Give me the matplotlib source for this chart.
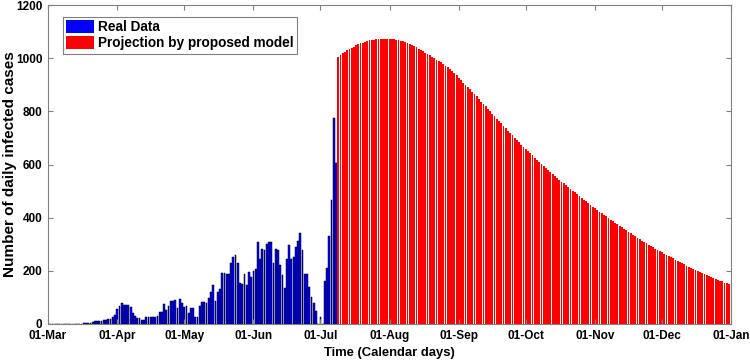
import matplotlib.pyplot as plt
import matplotlib.dates as mdates
import matplotlib.patches as mpatches
from datetime import date, timedelta

plt.rcParams['font.family'] = ['Liberation Sans', 'DejaVu Sans']
plt.rcParams['font.weight'] = 'bold'

# Reported daily cases (one value per day from 01-Mar)
real_start = date(2020, 3, 1)
real_cases = [0, 0, 0, 0, 0, 0, 0, 0, 0, 0, 0, 0, 0, 0,
              1, 1, 2, 2, 4, 5,
              8, 10, 10, 12, 12, 14, 14, 18, 18, 25,
              33, 57, 69, 78, 73, 72, 72, 63, 40, 31,
              23, 23, 15, 15, 28, 27, 27, 27, 27, 30,
              44, 44, 75, 54, 69, 85, 88, 92, 60, 94,
              78, 63, 67, 40, 60, 60, 25, 25, 69, 84,
              84, 78, 98, 119, 145, 85, 119, 132, 191, 191,
              188, 188, 229, 251, 260, 231, 153, 150, 187, 147,
              194, 178, 201, 207, 310, 244, 282, 277, 300, 310,
              307, 229, 282, 279, 222, 185, 134, 244, 298, 244,
              251, 289, 313, 344, 279, 188, 188, 141, 103, 78,
              47, 0, 27, 0, 160, 210, 332, 468, 775, 606]

# Model projection (one value per day from 09-Jul)
proj_start = date(2020, 7, 9)
proj_cases = [1005, 1012, 1019, 1025, 1030, 1035, 1040, 1044, 1048, 1052, 1056,
              1059, 1062, 1065, 1067, 1069, 1070, 1071, 1072, 1073, 1073, 1074,
              1074, 1074, 1073, 1072, 1070, 1068, 1066, 1063, 1060, 1057,
              1053, 1049, 1045, 1041, 1036, 1031, 1026, 1021, 1016, 1011,
              1006, 1001, 995, 990, 984, 978, 972, 966, 959, 951, 943, 935, 926, 917,
              908, 900, 891, 883, 874, 865, 856, 847, 837, 828, 819, 810, 801, 791,
              782, 773, 764, 755, 745, 736, 727, 719, 710, 701, 693, 684, 675, 667,
              658, 650, 642, 634, 626, 618, 610, 602, 594, 586, 578,
              571, 564, 557, 550, 543, 536, 529, 522, 515, 508,
              501, 495, 488, 481, 475, 468, 461, 455, 448, 441, 435,
              429, 423, 417, 411, 405, 399, 393, 387, 381, 375,
              369, 364, 358, 353, 347, 341, 336, 330, 325, 319,
              314, 309, 304, 299, 294, 289, 284, 279, 274, 269,
              265, 260, 256, 251, 247, 242, 238, 233, 229, 224,
              220, 216, 212, 208, 204, 200, 196, 192, 188, 184,
              181, 177, 174, 170, 167, 163, 160, 156, 153, 149]

real_dates = [real_start + timedelta(days=i) for i in range(len(real_cases))]
proj_dates = [proj_start + timedelta(days=i) for i in range(len(proj_cases))]

fig = plt.figure(figsize=(7.5, 3.62), dpi=100)
ax = fig.add_axes([0.064, 0.105, 0.911, 0.881])

ax.bar(real_dates, real_cases, width=0.8, color='b', edgecolor='k', linewidth=0.35)
ax.bar(proj_dates, proj_cases, width=0.8, color='r', edgecolor='none')

ax.set_xlim(date(2020, 3, 1), date(2021, 1, 1))
ax.set_ylim(0, 1200)
ax.set_yticks(range(0, 1201, 200))
ax.xaxis.set_major_locator(mdates.MonthLocator())
ax.xaxis.set_major_formatter(mdates.DateFormatter('%d-%b'))

for s in ax.spines.values():
    s.set_color('#808080')
    s.set_linewidth(0.8)
ax.tick_params(direction='in', length=3.5, color='#808080', labelsize=8.5,
               top=True, right=True, pad=4)

ax.set_xlabel('Time (Calendar days)', fontsize=9.4, fontweight='bold', labelpad=4)
ax.set_ylabel('Number of daily infected cases', fontsize=11, fontweight='bold')
ax.yaxis.set_label_coords(-0.046, 0.5)

handles = [mpatches.Patch(facecolor='b', edgecolor='none', label='Real Data'),
           mpatches.Patch(facecolor='r', edgecolor='none', label='Projection by proposed model')]
leg = ax.legend(handles=handles, loc='upper left', fontsize=9.8, fancybox=False,
                edgecolor='#808080', framealpha=1, handlelength=2.0, handleheight=1.1,
                handletextpad=0.3, labelspacing=0.15, borderpad=0.25,
                bbox_to_anchor=(0.012, 0.985))
leg.get_frame().set_linewidth(0.8)
for t in leg.get_texts():
    t.set_fontweight('bold')

plt.savefig('out.png', dpi=100)
